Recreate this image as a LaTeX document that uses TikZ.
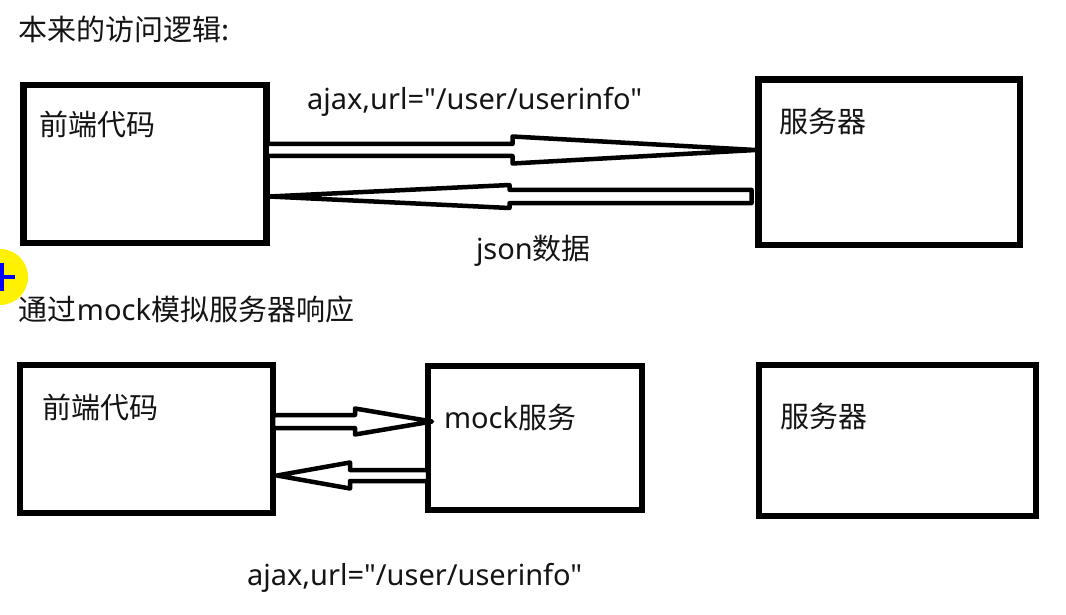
\documentclass[tikz,border=0pt]{standalone}
\usepackage{fontspec}
\setmainfont{Noto Sans}[Ligatures=TeXOff]
\newfontfamily\cjk{Noto Sans CJK SC}
\usetikzlibrary{calc}
\tikzset{
  box/.style={draw=black, line width=6.5pt, fill=white, inner sep=0pt, outer sep=0pt, rectangle},
  txt/.style={anchor=base west, inner sep=0pt, outer sep=0pt, text=black!92, font=\fontsize{29pt}{35pt}\selectfont},
  hollow/.style={draw=black, fill=white, line width=4.5pt, line join=round},
}
\newcommand{\hollowarrow}[5]{%
  \coordinate (ha-b) at ($(#2)!#3!(#1)$);
  \draw[hollow] ($(#1)!#4!90:(#2)$) -- ($(ha-b)!#4!-90:(#1)$) -- ($(ha-b)!#5!-90:(#1)$) -- (#2)
     -- ($(ha-b)!#5!90:(#1)$) -- ($(ha-b)!#4!90:(#1)$) -- ($(#1)!#4!-90:(#2)$) -- cycle;
}
\begin{document}
\begin{tikzpicture}[x=1pt, y=-1pt]
\fill[white] (0,0) rectangle (1066,615);
\useasboundingbox (0,0) rectangle (1066,615);

% cursor highlight
\begin{scope}
\clip (0,0) rectangle (1066,615);
\fill[yellow] (0,277) circle (28);
\draw[blue, line width=3.5pt] (-4,277) -- (15,277);
\draw[blue, line width=3.5pt] (2,263) -- (2,291);
\end{scope}

% titles
\node[txt] (t1) at (19,41) {\cjk 本来的访问逻辑:};
\node[txt] (t2) at (19,320) {{\cjk 通过}mock{\cjk 模拟服务器响应}};

% top section
\node[box, minimum width=243pt, minimum height=158pt] (A) at (145,164) {};
\node[box, minimum width=261.5pt, minimum height=165.5pt] (B) at (889.25,162.25) {};
\node[txt] (tA) at (39,136) {\cjk 前端代码};
\node[txt] (tB) at (779,133) {\cjk 服务器};

\coordinate (y1) at (0,150);
\coordinate (y2) at (0,196.5);
\coordinate (s1) at (A.east |- y1);
\coordinate[xshift=-3pt] (e1) at (B.west |- y1);
\coordinate[xshift=-7pt] (s2) at (B.west |- y2);
\coordinate[xshift=3pt] (e2) at (A.east |- y2);
\hollowarrow{s1}{e1}{243pt}{6pt}{13.5pt}
\hollowarrow{s2}{e2}{240pt}{6.7pt}{11.5pt}

\node[txt] (l1) at (307,110) {ajax,url="/user/userinfo"};
\node[txt] (l2) at (476,259) {json{\cjk 数据}};

% bottom section
\node[box, minimum width=253pt, minimum height=148pt] (C) at (146.5,439) {};
\node[box, minimum width=214pt, minimum height=144pt] (D) at (535,438) {};
\node[box, minimum width=277pt, minimum height=151pt] (E) at (897.5,440.5) {};
\node[txt] (tC) at (42,418) {\cjk 前端代码};
\node[txt] (tD) at (444,428) {mock{\cjk 服务}};
\node[txt] (tE) at (780,427) {\cjk 服务器};

\coordinate (y3) at (0,421.5);
\coordinate (y4) at (0,475.5);
\coordinate (s3) at (C.east |- y3);
\coordinate[xshift=4pt] (e3) at (D.west |- y3);
\coordinate (s4) at (D.west |- y4);
\coordinate[xshift=4pt] (e4) at (C.east |- y4);
\hollowarrow{s3}{e3}{77pt}{6.5pt}{13pt}
\hollowarrow{s4}{e4}{73pt}{5.5pt}{13pt}

\node[txt] (l3) at (247,585) {ajax,url="/user/userinfo"};
\end{tikzpicture}
\end{document}
